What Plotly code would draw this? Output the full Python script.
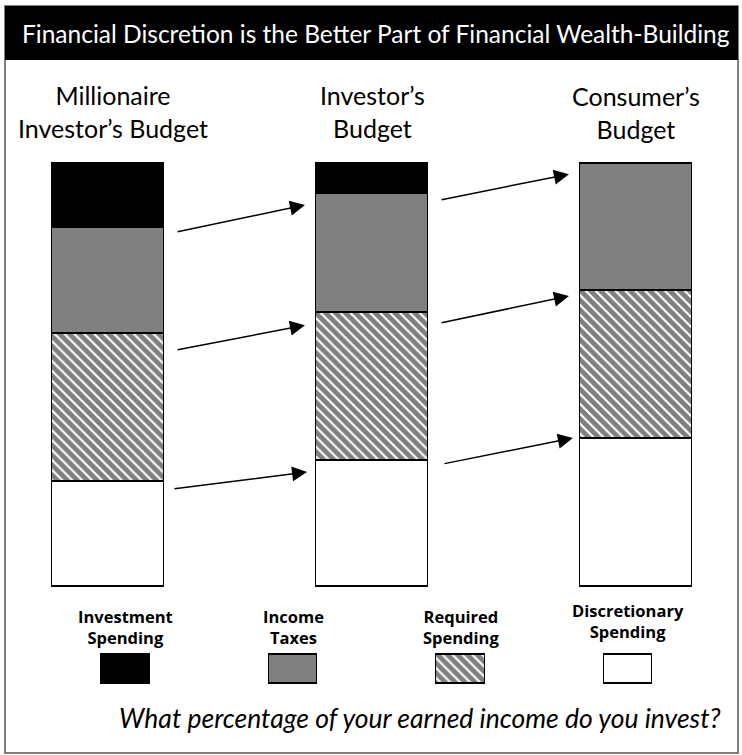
import plotly.graph_objects as go

# Budget shares (% of earned income), bottom segment first
budgets = ["Millionaire<br>Investor’s Budget", "Investor’s<br>Budget", "Consumer’s<br>Budget"]
discretionary = [25, 30, 35]
required = [35, 35, 35]
taxes = [25, 28, 30]
investment = [15, 7, 0]

legend_labels = ["Investment<br>Spending", "Income<br>Taxes", "Required<br>Spending", "Discretionary<br>Spending"]

title_text = "Financial Discretion is the Better Part of Financial Wealth-Building"
caption_text = "What percentage of your earned income do you invest?"

W, H = 742, 755
FONT = "Lato"
LEGEND_FONT = "Open Sans"


def py(p):
    """pixel row -> paper y"""
    return (H - p) / H


def px(p):
    """pixel column -> paper x"""
    return p / W


xpos = list(range(len(budgets)))
bar_w = 0.424
outline = dict(color="black", width=1.5)

hatch = dict(shape="\\", fgcolor="black", bgcolor="white", size=7, solidity=0.7)

segments = [
    ("Discretionary Spending", discretionary, dict(color="white")),
    ("Required Spending", required, dict(color="white", pattern=hatch)),
    ("Income Taxes", taxes, dict(color="#808080")),
    ("Investment Spending", investment, dict(color="black")),
]

fig = go.Figure()
for name, vals, mk in segments:
    fig.add_trace(go.Bar(
        x=xpos, y=vals, width=bar_w, name=name,
        marker=dict(line=outline, **mk),
        xaxis="x", yaxis="y", showlegend=False, hoverinfo="skip",
    ))

# legend key drawn as small bars on their own axes
legend_marks = [dict(color="black"), dict(color="#808080"),
                dict(color="white", pattern=hatch), dict(color="white")]
for i, mk in enumerate(legend_marks):
    fig.add_trace(go.Bar(
        x=[i], y=[1], width=0.29,
        marker=dict(line=outline, **mk),
        xaxis="x2", yaxis="y2", showlegend=False, hoverinfo="skip",
    ))

# arrows linking the budget segments: (x_start, y_start, x_tip, y_tip) in data units
arrows = [
    (0.258, 83.9, 0.746, 90.3),
    (0.258, 56.0, 0.746, 61.9),
    (0.246, 23.2, 0.754, 27.2),
    (1.258, 91.5, 1.746, 97.6),
    (1.258, 62.4, 1.746, 68.8),
    (1.269, 29.1, 1.761, 35.2),
]

annotations = []
for x0, y0, x1, y1 in arrows:
    annotations.append(dict(
        x=x1, y=y1, ax=x0, ay=y0, xref="x", yref="y", axref="x", ayref="y",
        text="", showarrow=True, arrowhead=2, arrowsize=2.0, arrowwidth=1.5,
        arrowcolor="black", standoff=0,
    ))

# column headings
head_y = [112, 111, 112.5]
head_dx = [5, 0, 0]
for i, lab in enumerate(budgets):
    annotations.append(dict(
        x=i, y=py(head_y[i]), xref="x", yref="paper", text=lab, showarrow=False,
        xshift=head_dx[i],
        font=dict(family=FONT, size=25, color="black"), align="center",
        xanchor="center", yanchor="middle",
    ))

# legend labels
label_mid = [627, 627, 627, 621]
for i, lab in enumerate(legend_labels):
    annotations.append(dict(
        x=i, y=py(label_mid[i]), xref="x2", yref="paper",
        text="<b>" + lab + "</b>", showarrow=False,
        font=dict(family=LEGEND_FONT, size=16.5, color="black"), align="center",
        xanchor="center", yanchor="middle",
    ))

annotations.append(dict(
    x=px(375.5), y=py(33), xref="paper", yref="paper", text=title_text,
    showarrow=False, font=dict(family=FONT, size=24.5, color="white"),
    xanchor="center", yanchor="middle",
))
annotations.append(dict(
    x=px(420), y=py(718), xref="paper", yref="paper", text="<i>" + caption_text + "</i>",
    showarrow=False, font=dict(family=FONT, size=26.5, color="black"),
    xanchor="center", yanchor="middle",
))

shapes = [
    dict(type="rect", xref="paper", yref="paper", x0=px(5), x1=px(738), y0=py(753), y1=py(6),
         line=dict(color="#555555", width=1.5), fillcolor="rgba(0,0,0,0)", layer="below"),
    dict(type="rect", xref="paper", yref="paper", x0=px(5), x1=px(738), y0=py(60), y1=py(6),
         line=dict(width=0), fillcolor="black", layer="below"),
]

spacing = 264.0
center0 = 108.0
lspacing = 167.5
lcenter0 = 125.5

# bar area: 0..100 spans rows 587..164; a small pad keeps outlines unclipped
unit = (587 - 164) / 100.0
pad = 2
lunit = 684 - 655
lpad = 0.08

fig.update_layout(
    width=W, height=H, margin=dict(l=0, r=0, t=0, b=0),
    paper_bgcolor="white", plot_bgcolor="rgba(0,0,0,0)",
    barmode="stack", bargap=0,
    xaxis=dict(domain=[0, 1], range=[-center0 / spacing, (W - center0) / spacing], visible=False, fixedrange=True),
    yaxis=dict(domain=[py(587 + pad * unit), py(164 - pad * unit)], range=[-pad, 100 + pad],
               visible=False, fixedrange=True),
    xaxis2=dict(domain=[0, 1], range=[-lcenter0 / lspacing, (W - lcenter0) / lspacing], visible=False, anchor="y2"),
    yaxis2=dict(domain=[py(684 + lpad * lunit), py(655 - lpad * lunit)], range=[-lpad, 1 + lpad],
                visible=False, anchor="x2"),
    annotations=annotations, shapes=shapes,
    font=dict(family=FONT),
)

fig.write_html("out.html")
